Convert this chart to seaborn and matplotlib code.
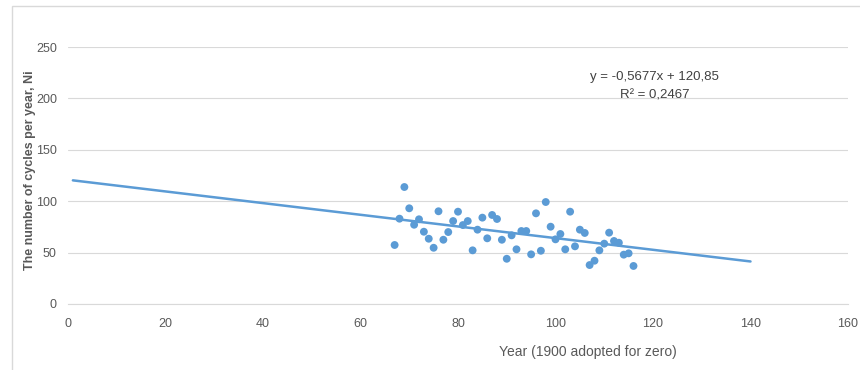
import numpy as np
import pandas as pd
import matplotlib
matplotlib.use("Agg")
import matplotlib.pyplot as plt
from matplotlib.patches import Rectangle
import seaborn as sns

# Years since 1900 and the number of cycles observed in each year
years = list(range(67, 117))
cycles = [57.4, 83.0, 113.8, 93.1, 77.1, 82.4, 70.3, 63.5, 54.7, 90.2,
          62.5, 70.0, 80.7, 89.8, 76.8, 80.7, 52.2, 72.3, 84.0, 63.9,
          86.6, 82.7, 62.5, 44.0, 66.8, 53.2, 71.0, 71.0, 48.3, 88.2,
          51.8, 99.2, 75.2, 62.9, 68.1, 53.2, 89.8, 56.1, 72.3, 69.1,
          37.9, 42.1, 52.2, 58.7, 69.4, 61.3, 59.6, 48.0, 49.3, 37.0]

# Linear trend y = slope * x + intercept, drawn across the forecast span
slope = -0.5677
intercept = 120.85
r_squared = 0.2467
trend_span = [1, 140]

x_ticks = [0, 20, 40, 60, 80, 100, 120, 140, 160]
y_ticks = [0, 50, 100, 150, 200, 250]

df = pd.DataFrame({"year": years, "cycles": cycles})
trend = pd.DataFrame({"year": trend_span,
                      "cycles": [slope * x + intercept for x in trend_span]})

sns.set_theme(style="white")
plt.rcParams["font.family"] = ["Liberation Sans", "DejaVu Sans"]

blue = "#5B9BD5"
grey_text = "#595959"
grid_col = "#D9D9D9"

fig = plt.figure(figsize=(8.6, 3.7), dpi=100)
ax = fig.add_axes([68 / 860, 66 / 370, 780 / 860, 257 / 370])

sns.lineplot(data=trend, x="year", y="cycles", ax=ax, color=blue, lw=1.8, zorder=2)
sns.scatterplot(data=df, x="year", y="cycles", ax=ax, color=blue, s=32,
                edgecolor="none", zorder=3)

ax.set_xlim(0, 160)
ax.set_ylim(0, 250)
ax.set_xticks(x_ticks)
ax.set_yticks(y_ticks)
ax.set_xticklabels([str(v) for v in x_ticks], color=grey_text, fontsize=9)
ax.set_yticklabels([str(v) for v in y_ticks], color=grey_text, fontsize=9)
ax.tick_params(axis="x", length=0, pad=10)
ax.tick_params(axis="y", length=0, pad=8)
ax.yaxis.grid(True, color=grid_col, lw=0.8)
ax.xaxis.grid(False)
for side in ["top", "right", "left"]:
    ax.spines[side].set_visible(False)
ax.spines["bottom"].set_color(grid_col)
ax.spines["bottom"].set_linewidth(0.8)
ax.set_xlabel("")
ax.set_ylabel("")

fig.text(30 / 860, 1 - 170 / 370, "The number of cycles per year, Ni",
         rotation=90, ha="center", va="center", color=grey_text,
         fontsize=9, fontweight="bold")
fig.text(588 / 860, 1 - 352 / 370, "Year (1900 adopted for zero)",
         ha="center", va="center", color=grey_text, fontsize=10)

eq = "y = " + f"{slope:.4f}".replace(".", ",") + "x + " + f"{intercept:.2f}".replace(".", ",")
r2 = "R² = " + f"{r_squared:.4f}".replace(".", ",")
fig.text(654 / 860, 1 - 77 / 370, eq, ha="center", va="center",
         color="#404040", fontsize=9.5)
fig.text(655 / 860, 1 - 95 / 370, r2, ha="center", va="center",
         color="#404040", fontsize=9.5)

# Chart frame: only the left and top edges fall inside the canvas
fig.patches.append(Rectangle((12 / 860, -0.1), 1.0, 1 - 6 / 370 + 0.1,
                             transform=fig.transFigure, fill=False,
                             edgecolor="#D9D9D9", lw=1.0))

fig.savefig("out.png", dpi=100)
